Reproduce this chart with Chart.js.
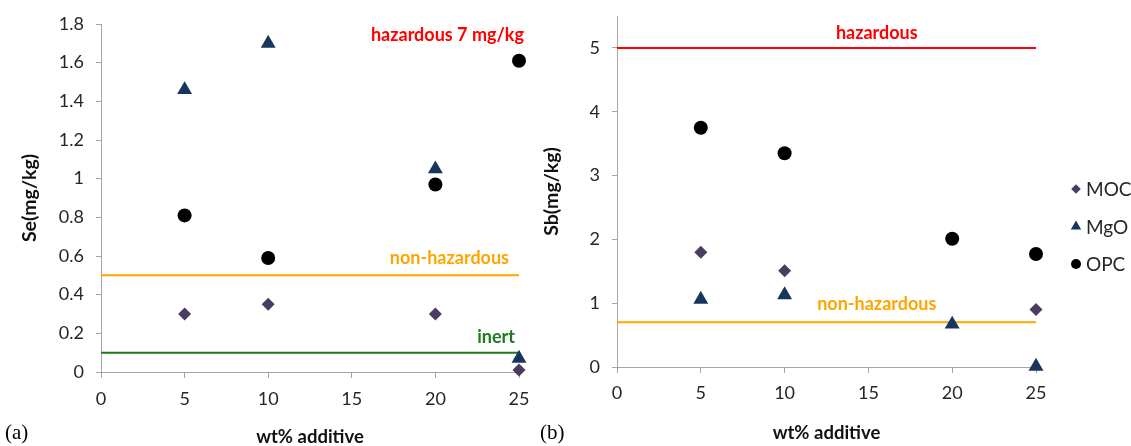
<!DOCTYPE html>
<html lang="en">
<head>
<meta charset="UTF-8">
<title>Se and Sb leaching vs additive</title>
<script src="https://cdn.jsdelivr.net/npm/chart.js@4.4.1/dist/chart.umd.min.js"></script>
<style>
    body { margin: 0; background: #fff; }
    .wrap { position: relative; width: 1131px; height: 446px; overflow: hidden; }
    canvas { position: absolute; top: 0; }
    #seChart { left: 0; }
    #sbChart { left: 540px; }
    .tag { position: absolute; font-family: 'Liberation Serif', 'Times New Roman', serif; font-size: 21px; color: #000; line-height: 24px; }
</style>
</head>
<body>
<div class="wrap">
    <canvas id="seChart" width="540" height="446"></canvas>
    <canvas id="sbChart" width="591" height="446"></canvas>
    <div class="tag" style="left:5px; top:420px;">(a)</div>
    <div class="tag" style="left:540px; top:420px;">(b)</div>
</div>
<script>
// data
const additive = [5, 10, 20, 25];
const seriesNames = ['MOC', 'MgO', 'OPC'];
const seMOC = [0.30, 0.35, 0.30, 0.01];
const seMgO = [1.46, 1.70, 1.05, 0.07];
const seOPC = [0.81, 0.59, 0.97, 1.61];
const sbMOC = [1.80, 1.51, null, 0.90];
const sbMgO = [1.06, 1.13, 0.67, 0.01];
const sbOPC = [3.75, 3.35, 2.01, 1.77];
const seLimitNames = ['non-hazardous', 'inert'];
const seLimitValues = [0.5, 0.1];
const seNote = 'hazardous 7 mg/kg';
const sbLimitNames = ['hazardous', 'non-hazardous'];
const sbLimitValues = [5, 0.7];

const FONT = 'Lato, "Open Sans", sans-serif';
const AXIS_GREY = '#a6a6a6';
const TEXT = '#262626';
const markers = [
    { style: 'rectRot', color: '#4a3b63', r: 6.5 },
    { style: 'triangle', color: '#17365d', r: 8.6 },
    { style: 'circle', color: '#000000', r: 7 }
];
const limitColors = { 'hazardous': '#ff0000', 'non-hazardous': '#ffa500', 'inert': '#1f7a1f' };

const points = ys => additive.map((x, i) => ({ x: x, y: ys[i] })).filter(p => p.y !== null);

function buildDatasets(series, limitNames, limitValues) {
    const sets = series.map((ys, i) => ({
        type: 'scatter',
        label: seriesNames[i],
        data: points(ys),
        pointStyle: markers[i].style,
        pointRadius: markers[i].r,
        pointHoverRadius: markers[i].r,
        backgroundColor: markers[i].color,
        borderColor: markers[i].color,
        borderWidth: 0,
        clip: false,
        order: 2 - i
    }));
    limitNames.forEach((name, i) => {
        sets.push({
            type: 'line',
            label: name,
            data: [{ x: 0, y: limitValues[i] }, { x: 25, y: limitValues[i] }],
            borderColor: limitColors[name],
            borderWidth: 2,
            pointRadius: 0,
            fill: false,
            clip: false,
            order: 5
        });
    });
    return sets;
}

// text next to the limit lines
function notesPlugin(notes) {
    return {
        id: 'notes',
        afterDatasetsDraw(chart) {
            const ctx = chart.ctx;
            const xs = chart.scales.x, ys = chart.scales.y;
            ctx.save();
            ctx.textBaseline = 'middle';
            notes.forEach(n => {
                ctx.font = 'bold 18px ' + FONT;
                ctx.fillStyle = n.color;
                ctx.textAlign = n.align;
                ctx.fillText(n.text, xs.getPixelForValue(n.xv) + n.dx, ys.getPixelForValue(n.yv) + n.dy);
            });
            ctx.restore();
        }
    };
}

// small legend on the right of chart (b)
const legendPlugin = {
    id: 'sideLegend',
    afterDraw(chart) {
        const ctx = chart.ctx;
        ctx.save();
        const x0 = chart.chartArea.right + 40;
        chart.data.datasets.filter(d => d.type === 'scatter').forEach((d, i) => {
            const y = 189 + i * 37.5;
            ctx.fillStyle = d.backgroundColor;
            ctx.strokeStyle = d.backgroundColor;
            const r = d.pointStyle === 'triangle' ? 6 : (d.pointStyle === 'circle' ? 5 : 4.8);
            Chart.helpers.drawPoint(ctx, { pointStyle: d.pointStyle, radius: r, rotation: 0, borderWidth: 0 }, x0, y);
            ctx.font = '19px ' + FONT;
            ctx.fillStyle = TEXT;
            ctx.textAlign = 'left';
            ctx.textBaseline = 'middle';
            ctx.fillText(d.label, x0 + 10, y + 1);
        });
        ctx.restore();
    }
};

function scales(opt) {
    const isStep = v => Math.abs(v / opt.yStep - Math.round(v / opt.yStep)) < 1e-6;
    return {
        x: {
            type: 'linear', min: 0, max: 25,
            ticks: { stepSize: 5, font: { family: FONT, size: 18 }, color: TEXT, padding: opt.xPad, maxRotation: 0 },
            grid: { drawOnChartArea: false, drawTicks: true, tickLength: 6, color: AXIS_GREY },
            border: { color: AXIS_GREY, width: 1 },
            title: { display: true, text: 'wt% additive', color: '#111', font: { family: FONT, size: 18.5, weight: 'bold' }, padding: { top: 0, bottom: opt.xTitlePad } },
            afterFit: s => { s.height = opt.boxBottom; }
        },
        y: {
            type: 'linear', min: 0, max: opt.yMax,
            ticks: {
                stepSize: opt.yStep, font: { family: FONT, size: 18 }, color: TEXT, padding: 12,
                callback: v => String(+v.toFixed(1))
            },
            afterBuildTicks: s => { s.ticks = s.ticks.filter(t => isStep(t.value)); },
            grid: { drawOnChartArea: false, drawTicks: true, tickLength: 5, color: AXIS_GREY },
            border: { color: AXIS_GREY, width: 1 },
            title: { display: true, text: opt.yTitle, color: '#111', font: { family: FONT, size: 19.5, weight: 'bold' }, padding: { top: opt.yTitlePad, bottom: 0 } },
            // keep the plot box where the figure has it
            afterFit: s => { s.width = opt.boxLeft; s.paddingTop = 0; }
        }
    };
}

const common = {
    responsive: false,
    animation: false,
    events: [],
    plugins: { legend: { display: false }, tooltip: { enabled: false } }
};

new Chart(document.getElementById('seChart'), {
    type: 'scatter',
    data: { datasets: buildDatasets([seMOC, seMgO, seOPC], seLimitNames, seLimitValues) },
    options: Object.assign({}, common, {
        layout: { padding: { left: 0, right: 21, top: 24, bottom: 0 } },
        scales: scales({ yMax: 1.8, yStep: 0.2, yTitle: 'Se(mg/kg)', boxLeft: 101, boxBottom: 74, xPad: 10, xTitlePad: -2, yTitlePad: 18 })
    }),
    plugins: [notesPlugin([
        { text: seNote, color: limitColors['hazardous'], xv: 25, yv: 1.8, dx: 5, dy: 11, align: 'right' },
        { text: seLimitNames[0], color: limitColors[seLimitNames[0]], xv: 25, yv: seLimitValues[0], dx: -10, dy: -17, align: 'right' },
        { text: seLimitNames[1], color: limitColors[seLimitNames[1]], xv: 25, yv: seLimitValues[1], dx: -4, dy: -15, align: 'right' }
    ])]
});

new Chart(document.getElementById('sbChart'), {
    type: 'scatter',
    data: { datasets: buildDatasets([sbMOC, sbMgO, sbOPC], sbLimitNames, sbLimitValues) },
    options: Object.assign({}, common, {
        layout: { padding: { left: 0, right: 95, top: 16, bottom: 0 } },
        scales: scales({ yMax: 5.5, yStep: 1, yTitle: 'Sb(mg/kg)', boxLeft: 77, boxBottom: 79, xPad: 9, xTitlePad: 2, yTitlePad: 0 })
    }),
    plugins: [legendPlugin, notesPlugin([
        { text: sbLimitNames[0], color: limitColors[sbLimitNames[0]], xv: 15.5, yv: sbLimitValues[0], dx: 0, dy: -15, align: 'center' },
        { text: sbLimitNames[1], color: limitColors[sbLimitNames[1]], xv: 15.5, yv: sbLimitValues[1], dx: 0, dy: -18, align: 'center' }
    ])]
});
</script>
</body>
</html>
